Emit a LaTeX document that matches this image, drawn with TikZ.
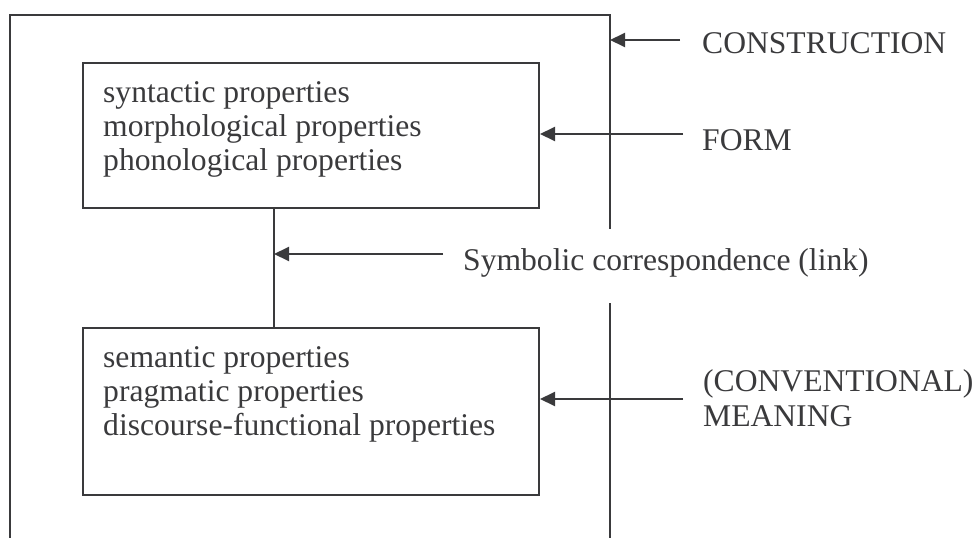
\documentclass[tikz,border=0pt]{standalone}
\usepackage{fontspec}
\setmainfont{Liberation Serif}
\usetikzlibrary{arrows.meta}
\definecolor{ink}{HTML}{3A3A3C}
\begin{document}
\begin{tikzpicture}[x=1pt,y=-1pt,
  rule/.style={draw=ink, line width=2pt},
  arr/.style={rule, -{Triangle[length=15pt,width=14pt]}},
  boxst/.style={rule, rectangle, inner sep=0pt, anchor=north west},
  lbl/.style={anchor=base west, inner sep=0pt, text=ink, font=\fontsize{31.6}{34}\selectfont}]
\useasboundingbox (0,0) rectangle (975,538);
% outer construction box (open at bottom, gap on the right)
\coordinate (oTR) at (610,15);
\coordinate (gapTop) at (610,229);
\coordinate (gapBot) at (610,303);
\coordinate (oBR) at (610,538);
\coordinate (oBL) at (10,538);
\coordinate (oTL) at (10,15);
\draw[rule] (oBL) -- (oTL) -- (oTR) -- (gapTop);
\draw[rule] (gapBot) -- (oBR);
% inner boxes
\node[boxst, minimum width=456pt, minimum height=145pt] (form) at (82,62) {};
\node[boxst, minimum width=456pt, minimum height=167pt] (meaning) at (82,327) {};
\draw[rule] (form.south -| 274,0) coordinate (linkTop) -- (meaning.north -| 274,0) coordinate (linkBot);
% box texts
\node[lbl] (s1) at (103,102) {syntactic properties};
\node[lbl] (s2) at (103,136) {morphological properties};
\node[lbl] (s3) at (103,170) {phonological properties};
\node[lbl] (m1) at (103,367) {semantic properties};
\node[lbl] (m2) at (103,401) {pragmatic properties};
\node[lbl] (m3) at (103,435) {discourse-functional properties};
% right labels
\node[lbl] (lcons) at (702,53) {CONSTRUCTION};
\node[lbl] (lform) at (702,150) {FORM};
\node[lbl] (llink) at (463,270) {Symbolic correspondence (link)};
\node[lbl] (lconv) at (703,391) {(CONVENTIONAL)};
\node[lbl] (lmean) at (703,426) {MEANING};
% arrows
\coordinate (aCons) at (680,40);
\coordinate (aForm) at (683,134);
\coordinate (aLink) at (443,254);
\coordinate (aMean) at (683,399);
\draw[arr] (aCons) -- (aCons -| oTR);
\draw[arr] (aForm) -- (aForm -| form.east);
\draw[arr] (aLink) -- (aLink -| linkTop);
\draw[arr] (aMean) -- (aMean -| meaning.east);
\end{tikzpicture}
\end{document}
